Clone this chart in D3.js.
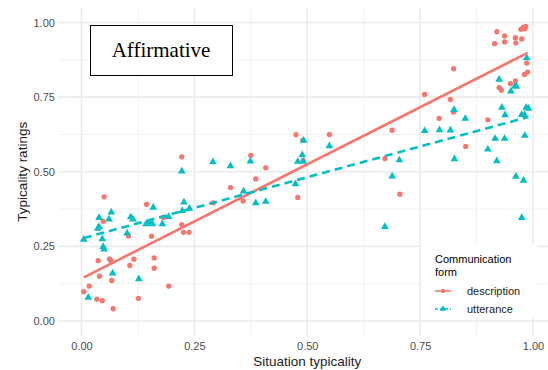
<!DOCTYPE html>
<html>
<head>
<meta charset="utf-8">
<script src="https://cdn.jsdelivr.net/npm/d3@7"></script>
<style>
  body { margin: 0; background: #fff; }
  text { font-family: "Liberation Sans", Arial, sans-serif; }
</style>
</head>
<body>
<svg id="chart" width="548" height="370"></svg>
<script>
// description points (situation typicality, rating)
const descX = [0.005, 0.017, 0.034, 0.046, 0.037, 0.040, 0.048, 0.050, 0.062, 0.065,
  0.067, 0.070, 0.104, 0.107, 0.116, 0.126, 0.144, 0.155, 0.161, 0.161,
  0.181, 0.193, 0.222, 0.222, 0.226, 0.238, 0.292, 0.330, 0.358, 0.375,
  0.386, 0.408, 0.475, 0.479, 0.490, 0.491, 0.549, 0.672, 0.688, 0.705,
  0.760, 0.792, 0.817, 0.824, 0.824, 0.851, 0.900, 0.915, 0.920, 0.925,
  0.930, 0.937, 0.937, 0.950, 0.961, 0.961, 0.962, 0.973, 0.975, 0.978,
  0.981, 0.982, 0.984, 0.986, 0.988];
const descY = [0.098, 0.117, 0.073, 0.068, 0.202, 0.150, 0.334, 0.416, 0.208, 0.203,
  0.136, 0.041, 0.285, 0.186, 0.207, 0.076, 0.391, 0.284, 0.211, 0.177,
  0.347, 0.117, 0.550, 0.323, 0.297, 0.297, 0.396, 0.447, 0.402, 0.555,
  0.476, 0.513, 0.624, 0.414, 0.606, 0.538, 0.625, 0.544, 0.639, 0.425,
  0.759, 0.679, 0.742, 0.700, 0.845, 0.585, 0.674, 0.929, 0.969, 0.782,
  0.773, 0.955, 0.935, 0.795, 0.804, 0.949, 0.932, 0.977, 0.945, 0.984,
  0.826, 0.979, 0.987, 0.864, 0.834];

// utterance points
const uttX = [0.005, 0.015, 0.036, 0.039, 0.039, 0.046, 0.048, 0.050, 0.061, 0.066,
  0.069, 0.101, 0.109, 0.114, 0.127, 0.143, 0.152, 0.157, 0.159, 0.179,
  0.193, 0.222, 0.223, 0.227, 0.239, 0.291, 0.330, 0.359, 0.374, 0.386,
  0.408, 0.474, 0.479, 0.489, 0.491, 0.492, 0.549, 0.672, 0.688, 0.704,
  0.760, 0.793, 0.817, 0.825, 0.826, 0.850, 0.900, 0.916, 0.920, 0.925,
  0.931, 0.937, 0.938, 0.951, 0.960, 0.963, 0.962, 0.975, 0.975, 0.979,
  0.981, 0.982, 0.985, 0.990, 0.986];
const uttY = [0.273, 0.079, 0.310, 0.316, 0.346, 0.275, 0.249, 0.240, 0.341, 0.364,
  0.160, 0.294, 0.348, 0.341, 0.141, 0.325, 0.331, 0.325, 0.380, 0.325,
  0.349, 0.502, 0.369, 0.398, 0.377, 0.533, 0.519, 0.435, 0.535, 0.395,
  0.400, 0.459, 0.534, 0.556, 0.534, 0.605, 0.586, 0.316, 0.485, 0.539,
  0.637, 0.640, 0.639, 0.708, 0.543, 0.678, 0.575, 0.611, 0.536, 0.809,
  0.715, 0.611, 0.690, 0.770, 0.786, 0.786, 0.484, 0.346, 0.691, 0.471,
  0.691, 0.621, 0.715, 0.712, 0.881];

const groups = ["description", "utterance"];
const colors = ["#F8766D", "#00BFC4"];
const majorTicks = [0, 0.25, 0.5, 0.75, 1];
const minorTicks = [0.125, 0.375, 0.625, 0.875];

const svg = d3.select("#chart");

const x = d3.scaleLinear().domain([0, 1]).range([81.5, 533]);
const y = d3.scaleLinear().domain([0, 1]).range([321, 22.5]);
const color = d3.scaleOrdinal(groups, colors);

const pLeft = x(-0.05), pRight = x(1.05), pTop = y(1.05), pBottom = y(-0.05);

// grid
const grid = svg.append("g");
grid.selectAll(".vminor").data(minorTicks).enter().append("line")
  .attr("x1", d => x(d)).attr("x2", d => x(d)).attr("y1", pTop).attr("y2", pBottom)
  .attr("stroke", "#f2f2f2").attr("stroke-width", 1);
grid.selectAll(".hminor").data(minorTicks).enter().append("line")
  .attr("y1", d => y(d)).attr("y2", d => y(d)).attr("x1", pLeft).attr("x2", pRight)
  .attr("stroke", "#f2f2f2").attr("stroke-width", 1);
grid.selectAll(".vmajor").data(majorTicks).enter().append("line")
  .attr("x1", d => x(d)).attr("x2", d => x(d)).attr("y1", pTop).attr("y2", pBottom)
  .attr("stroke", "#ebebeb").attr("stroke-width", 1.6);
grid.selectAll(".hmajor").data(majorTicks).enter().append("line")
  .attr("y1", d => y(d)).attr("y2", d => y(d)).attr("x1", pLeft).attr("x2", pRight)
  .attr("stroke", "#ebebeb").attr("stroke-width", 1.6);

// axes, no lines or ticks (theme_minimal)
const fmt = d3.format(".2f");
const xAxis = svg.append("g").attr("transform", `translate(0,${pBottom})`)
  .call(d3.axisBottom(x).tickValues(majorTicks).tickFormat(fmt).tickSize(0).tickPadding(6));
const yAxis = svg.append("g").attr("transform", `translate(${pLeft},0)`)
  .call(d3.axisLeft(y).tickValues(majorTicks).tickFormat(fmt).tickSize(0).tickPadding(4));
[xAxis, yAxis].forEach(a => {
  a.select(".domain").remove();
  a.selectAll("text").attr("fill", "#4d4d4d").style("font-size", "11px")
    .style("font-family", "Liberation Sans, Arial, sans-serif");
});

svg.append("text")
  .attr("x", (x(0) + x(1)) / 2).attr("y", 366)
  .attr("text-anchor", "middle").style("font-size", "13.5px").attr("fill", "#222")
  .text("Situation typicality");
svg.append("text")
  .attr("transform", `translate(27,${(pTop + pBottom) / 2}) rotate(-90)`)
  .attr("text-anchor", "middle").style("font-size", "13.5px").attr("fill", "#222")
  .text("Typicality ratings");

// least squares line, like geom_smooth(method = "lm")
function fit(xs, ys) {
  const mx = d3.mean(xs), my = d3.mean(ys);
  const b = d3.sum(xs, (v, i) => (v - mx) * (ys[i] - my)) / d3.sum(xs, v => (v - mx) ** 2);
  const a = my - b * mx;
  const lo = d3.min(xs), hi = d3.max(xs);
  return [[lo, a + b * lo], [hi, a + b * hi]];
}

const series = [
  { name: "description", xs: descX, ys: descY, symbol: d3.symbolCircle, size: 22, dash: null },
  { name: "utterance", xs: uttX, ys: uttY, symbol: d3.symbolTriangle, size: 26, dash: "8,5" }
];

const line = d3.line().x(d => x(d[0])).y(d => y(d[1]));

series.forEach(s => {
  svg.append("g").selectAll("path")
    .data(s.xs.map((v, i) => [v, s.ys[i]]))
    .enter().append("path")
    .attr("transform", d => `translate(${x(d[0])},${y(d[1])})`)
    .attr("d", d3.symbol().type(s.symbol).size(s.size))
    .attr("fill", color(s.name));
});

series.forEach(s => {
  svg.append("path")
    .attr("d", line(fit(s.xs, s.ys)))
    .attr("fill", "none")
    .attr("stroke", color(s.name))
    .attr("stroke-width", 2.6)
    .attr("stroke-dasharray", s.dash);
});

// legend
const lg = svg.append("g").attr("transform", "translate(421,245)");
lg.append("rect").attr("width", 116).attr("height", 72).attr("fill", "#fff");
lg.append("text").attr("x", 14).attr("y", 18).style("font-size", "11px").text("Communication");
lg.append("text").attr("x", 14).attr("y", 31).style("font-size", "11px").text("form");
const keys = lg.selectAll(".key").data(series).enter().append("g")
  .attr("transform", (d, i) => `translate(14,${46 + i * 18})`);
keys.append("line").attr("x1", 0).attr("x2", 16)
  .attr("stroke", d => color(d.name)).attr("stroke-width", 1.6)
  .attr("stroke-dasharray", d => d.dash ? "3,2" : null);
keys.append("path")
  .attr("transform", "translate(8,0)")
  .attr("d", d => d3.symbol().type(d.symbol).size(d.size * 0.7)())
  .attr("fill", d => color(d.name));
keys.append("text").attr("x", 32).attr("y", 4).style("font-size", "11px").attr("fill", "#222")
  .text(d => d.name);

// panel label
const box = svg.append("g");
box.append("rect").attr("x", 90.5).attr("y", 25.5).attr("width", 142).attr("height", 50)
  .attr("fill", "#fff").attr("stroke", "#000").attr("stroke-width", 1);
box.append("text").attr("x", 161).attr("y", 57).attr("text-anchor", "middle")
  .style("font-family", "Liberation Serif, Times New Roman, serif").style("font-size", "21px")
  .text("Affirmative");
</script>
</body>
</html>
